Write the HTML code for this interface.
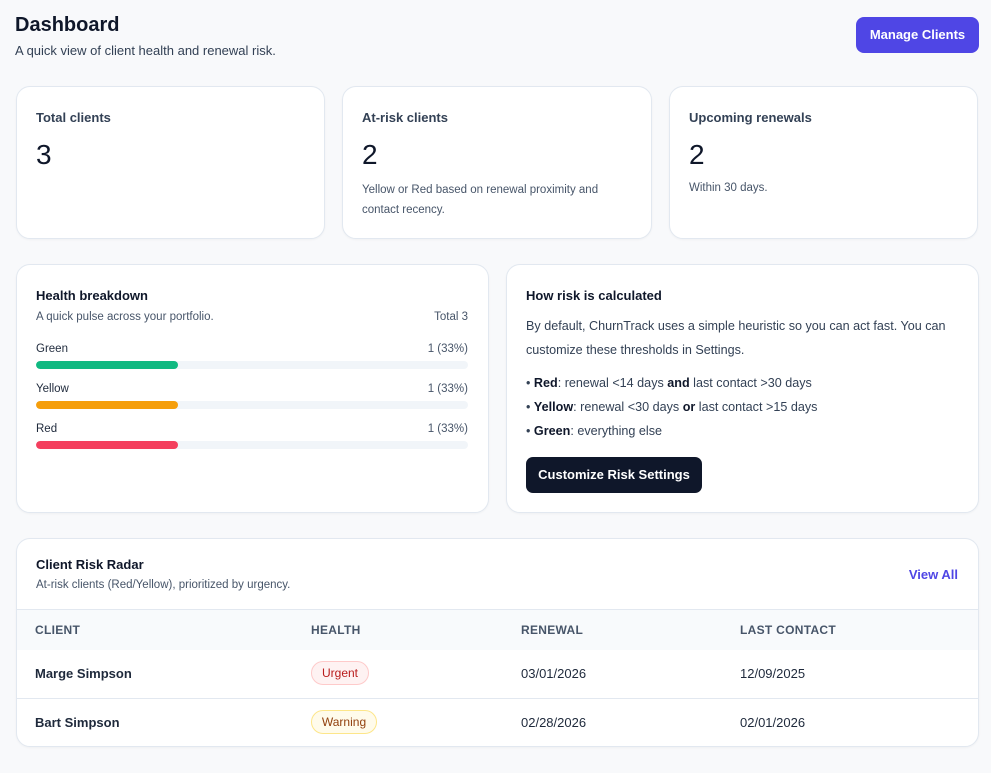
<!DOCTYPE html><html><head><style>
*{box-sizing:border-box;margin:0;padding:0}
body{width:991px;height:773px;background:#f8f9fb;font-family:"Liberation Sans",sans-serif;color:#0f172a;position:relative;overflow:hidden}
.a{position:absolute}
.card{position:absolute;background:#fff;border:1px solid #e2e8f0;border-radius:14px;box-shadow:0 1px 2px rgba(0,0,0,.04)}
.t{font-size:13px;font-weight:bold;color:#334155}
.s{font-size:11.5px;color:#475569}
.bar{position:absolute;left:19px;width:432px;height:8px;border-radius:4px;background:#f1f5f9;overflow:hidden}
.bar i{display:block;height:8px;width:142px;border-radius:4px}
.lab{position:absolute;font-size:11.5px;color:#1e293b}
.pct{position:absolute;right:20px;font-size:11.5px;color:#475569}
.th{position:absolute;top:623px;font-size:12px;font-weight:bold;color:#475569;letter-spacing:.3px}
.td{position:absolute;font-size:13px;color:#1e293b}
</style></head><body>
<div class="a" style="left:15px;top:14px;font-size:20px;font-weight:bold">Dashboard</div>
<div class="a" style="left:15px;top:43px;font-size:13px;color:#334155">A quick view of client health and renewal risk.</div>
<div class="a" style="left:856px;top:17px;width:123px;height:36px;background:#4f46e5;border-radius:8px;color:#fff;font-size:13px;font-weight:bold;text-align:center;line-height:36px">Manage Clients</div>

<div class="card" style="left:16px;top:86px;width:309px;height:153px">
<div class="a t" style="left:19px;top:23px">Total clients</div>
<div class="a" style="left:19px;top:52px;font-size:28px;font-weight:500">3</div></div>
<div class="card" style="left:342px;top:86px;width:310px;height:153px">
<div class="a t" style="left:19px;top:23px">At-risk clients</div>
<div class="a" style="left:19px;top:52px;font-size:28px">2</div>
<div class="a s" style="left:19px;top:93px;line-height:20px;width:270px">Yellow or Red based on renewal proximity and contact recency.</div></div>
<div class="card" style="left:669px;top:86px;width:309px;height:153px">
<div class="a t" style="left:19px;top:23px">Upcoming renewals</div>
<div class="a" style="left:19px;top:52px;font-size:28px">2</div>
<div class="a s" style="left:19px;top:95px">Within 30 days.</div></div>

<div class="card" style="left:16px;top:264px;width:473px;height:249px">
<div class="a" style="left:19px;top:23px;font-size:13px;font-weight:bold">Health breakdown</div>
<div class="a s" style="left:19px;top:46px">A quick pulse across your portfolio.</div>
<div class="pct" style="top:46px">Total 3</div>
<div class="lab" style="left:19px;top:78px">Green</div><div class="pct" style="top:78px">1 (33%)</div>
<div class="bar" style="top:96px"><i style="background:#10b981"></i></div>
<div class="lab" style="left:19px;top:118px">Yellow</div><div class="pct" style="top:118px">1 (33%)</div>
<div class="bar" style="top:136px"><i style="background:#f59e0b"></i></div>
<div class="lab" style="left:19px;top:158px">Red</div><div class="pct" style="top:158px">1 (33%)</div>
<div class="bar" style="top:176px"><i style="background:#f43f5e"></i></div>
</div>

<div class="card" style="left:506px;top:264px;width:473px;height:249px">
<div class="a" style="left:19px;top:23px;font-size:13px;font-weight:bold">How risk is calculated</div>
<div class="a" style="left:19px;top:49px;font-size:12.6px;line-height:24px;color:#334155;width:440px">By default, ChurnTrack uses a simple heuristic so you can act fast. You can customize these thresholds in Settings.</div>
<div class="a" style="left:19px;top:106px;font-size:12.6px;line-height:24px;color:#334155">
<div>• <b style="color:#0f172a">Red</b>: renewal &lt;14 days <b style="color:#0f172a">and</b> last contact &gt;30 days</div>
<div>• <b style="color:#0f172a">Yellow</b>: renewal &lt;30 days <b style="color:#0f172a">or</b> last contact &gt;15 days</div>
<div>• <b style="color:#0f172a">Green</b>: everything else</div></div>
<div class="a" style="left:19px;top:192px;width:176px;height:36px;background:#0f172a;border-radius:7px;color:#fff;font-size:13px;font-weight:bold;text-align:center;line-height:36px">Customize Risk Settings</div>
</div>

<div class="card" style="left:16px;top:538px;width:963px;height:209px;overflow:hidden">
<div class="a" style="left:19px;top:18px;font-size:13px;font-weight:bold">Client Risk Radar</div>
<div class="a s" style="left:19px;top:40px">At-risk clients (Red/Yellow), prioritized by urgency.</div>
<div class="a" style="right:20px;top:28px;font-size:13px;font-weight:bold;color:#4f46e5">View All</div>
<div class="a" style="left:0;top:70px;width:963px;height:41px;background:#f8fafc;border-top:1px solid #e2e8f0"></div>
<div class="a" style="left:0;top:159px;width:963px;height:1px;background:#e2e8f0"></div>
</div>
<div class="th" style="left:35px">CLIENT</div><div class="th" style="left:311px">HEALTH</div><div class="th" style="left:521px">RENEWAL</div><div class="th" style="left:740px">LAST CONTACT</div>
<div class="td" style="left:35px;top:666px;font-weight:bold">Marge Simpson</div>
<div class="a" style="left:311px;top:661px;width:58px;height:24px;border:1px solid #fecaca;background:#fef2f2;border-radius:12px;color:#b91c1c;font-size:12px;text-align:center;line-height:22px">Urgent</div>
<div class="td" style="left:521px;top:666px">03/01/2026</div><div class="td" style="left:740px;top:666px">12/09/2025</div>
<div class="td" style="left:35px;top:715px;font-weight:bold">Bart Simpson</div>
<div class="a" style="left:311px;top:710px;width:66px;height:24px;border:1px solid #fde68a;background:#fffbeb;border-radius:12px;color:#92400e;font-size:12px;text-align:center;line-height:22px">Warning</div>
<div class="td" style="left:521px;top:715px">02/28/2026</div><div class="td" style="left:740px;top:715px">02/01/2026</div>
</body></html>
